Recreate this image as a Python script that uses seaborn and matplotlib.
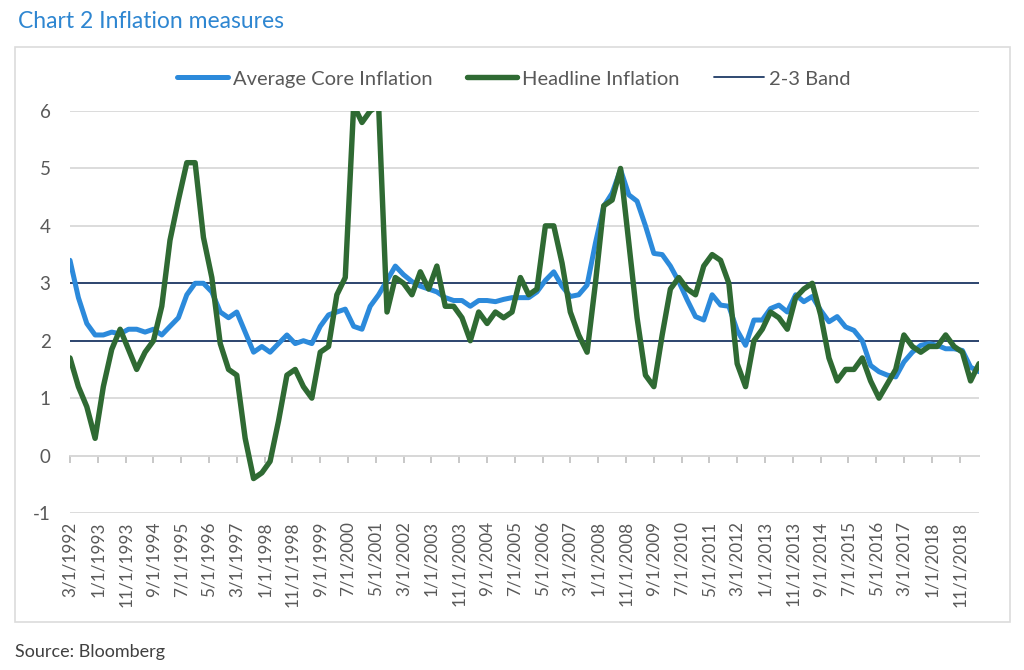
import matplotlib
matplotlib.use("Agg")
import matplotlib.dates as mdates
import matplotlib.pyplot as plt
import pandas as pd
import seaborn as sns
from matplotlib.patches import Rectangle

# quarterly observations, Mar 1992 .. Jun 2019
quarters = pd.date_range("1992-03-01", periods=110, freq="3MS")

core = [3.4, 2.75, 2.3, 2.1, 2.1, 2.15, 2.12, 2.2, 2.2, 2.15,
        2.2, 2.1, 2.25, 2.4, 2.8, 3.0, 3.0, 2.85, 2.5, 2.4,
        2.5, 2.15, 1.8, 1.9, 1.8, 1.95, 2.1, 1.95, 2.0, 1.95,
        2.25, 2.45, 2.5, 2.55, 2.25, 2.2, 2.6, 2.8, 3.05, 3.3,
        3.15, 3.03, 2.95, 2.9, 2.85, 2.75, 2.7, 2.7, 2.6, 2.7,
        2.7, 2.68, 2.72, 2.75, 2.75, 2.75, 2.85, 3.05, 3.2, 2.95,
        2.77, 2.8, 2.97, 3.7, 4.34, 4.57, 4.98, 4.54, 4.43, 4.0,
        3.52, 3.5, 3.3, 3.03, 2.71, 2.42, 2.36, 2.8, 2.62, 2.6,
        2.18, 1.92, 2.36, 2.36, 2.56, 2.62, 2.5, 2.8, 2.68, 2.77,
        2.53, 2.33, 2.42, 2.24, 2.18, 2.0, 1.57, 1.46, 1.4, 1.37,
        1.63, 1.8, 1.92, 1.95, 1.92, 1.86, 1.86, 1.83, 1.54, 1.46]

headline = [1.7, 1.2, 0.85, 0.3, 1.2, 1.85, 2.2, 1.85, 1.5, 1.8,
            2.0, 2.6, 3.75, 4.45, 5.1, 5.1, 3.8, 3.1, 1.95, 1.5,
            1.4, 0.3, -0.4, -0.3, -0.1, 0.6, 1.4, 1.5, 1.2, 1.0,
            1.8, 1.9, 2.8, 3.1, 6.1, 5.8, 6.0, 6.1, 2.5, 3.1,
            3.0, 2.8, 3.2, 2.9, 3.3, 2.6, 2.6, 2.4, 2.0, 2.5,
            2.3, 2.5, 2.4, 2.5, 3.1, 2.8, 2.9, 4.0, 4.0, 3.35,
            2.5, 2.1, 1.8, 3.0, 4.35, 4.45, 5.0, 3.7, 2.4, 1.4,
            1.2, 2.1, 2.9, 3.1, 2.9, 2.8, 3.3, 3.5, 3.4, 3.0,
            1.6, 1.2, 2.0, 2.2, 2.5, 2.4, 2.2, 2.75, 2.9, 3.0,
            2.45, 1.7, 1.3, 1.5, 1.5, 1.7, 1.3, 1.0, 1.25, 1.5,
            2.1, 1.9, 1.8, 1.9, 1.9, 2.1, 1.9, 1.8, 1.3, 1.6]

band = [2, 3]
series_names = ["Average Core Inflation", "Headline Inflation"]
band_name = "2-3 Band"

# axis labels every 10 months
tick_dates = pd.date_range("1992-03-01", "2018-11-01", freq="10MS")
tick_labels = [f"{d.month}/{d.day}/{d.year}" for d in tick_dates]
y_ticks = [-1, 0, 1, 2, 3, 4, 5, 6]

title = "Chart 2 Inflation measures"
source = "Source: Bloomberg"

BLUE = "#2C8ADB"
GREEN = "#2F6A33"
NAVY = "#1F3A66"
GRID = "#D9D9D9"
TEXT = "#595959"

df = pd.DataFrame({
    "Date": list(quarters) * 2,
    "Value": core + headline,
    "Series": [series_names[0]] * len(core) + [series_names[1]] * len(headline),
})

sns.set_theme(style="white")
plt.rcParams["font.family"] = ["Lato", "DejaVu Sans"]

fig = plt.figure(figsize=(10.24, 6.7), dpi=100)
fig.patches.append(Rectangle((15 / 1024, 1 - 622 / 670), 995 / 1024, 575 / 670,
                             transform=fig.transFigure, fill=False,
                             edgecolor="#DCDCDC", linewidth=1.2))

ax = fig.add_axes([70 / 1024, 157 / 670, 909 / 1024, 402 / 670])

for b in band:
    ax.axhline(b, color=NAVY, linewidth=1.3, zorder=1.5)

sns.lineplot(data=df, x="Date", y="Value", hue="Series",
             hue_order=series_names, palette=[BLUE, GREEN],
             linewidth=3.6, legend=False, ax=ax, zorder=2)
ax.lines[-1].set_linewidth(3.9)

ax.set_ylim(-1, 6)
ax.set_xlim(quarters[0], quarters[-1])
ax.set_yticks(y_ticks)
ax.set_yticklabels([str(v) for v in y_ticks])
ax.set_xticks(tick_dates)
ax.set_xticklabels(tick_labels, rotation=90, ha="center", va="top")
ax.tick_params(axis="x", length=0, pad=6, labelsize=12.3, labelcolor=TEXT)
ax.tick_params(axis="y", length=0, pad=14, labelsize=13.5, labelcolor=TEXT)
ax.set_xlabel("")
ax.set_ylabel("")
ax.grid(axis="y", color=GRID, linewidth=1.3)
ax.grid(axis="x", visible=False)
ax.set_axisbelow(True)
for s in ax.spines.values():
    s.set_visible(False)

# axis line with tick marks at zero
zero_axis = ax.secondary_xaxis(1 / 7)
zero_axis.set_xticks(mdates.date2num(tick_dates))
zero_axis.tick_params(axis="x", direction="out", length=5, width=1.2,
                      color="#BFBFBF", labelbottom=False, labeltop=False)
for s in zero_axis.spines.values():
    s.set_color("#CFCFCF")
    s.set_linewidth(1.3)

handles = [ax.lines[-2], ax.lines[-1], ax.lines[0]]
fig.legend(handles, series_names + [band_name], loc="center",
           bbox_to_anchor=(514 / 1024, 1 - 79 / 670), ncol=3, frameon=False,
           fontsize=14.5, labelcolor=TEXT, handlelength=2.5,
           handletextpad=0.25, columnspacing=1.7)

fig.text(18 / 1024, 1 - 21 / 670, title, color="#2E86D1", fontsize=16.5,
         ha="left", va="center")
fig.text(15 / 1024, 1 - 652 / 670, source, color="#404040", fontsize=13,
         ha="left", va="center",
         family=["Liberation Sans Narrow", "Lato", "DejaVu Sans"])

fig.savefig("out.png", dpi=100)
plt.close(fig)
